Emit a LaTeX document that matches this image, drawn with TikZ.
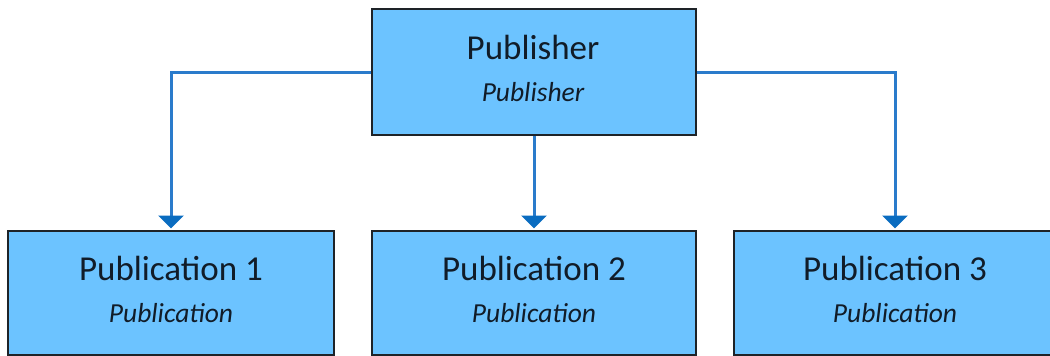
\documentclass[tikz,border=0pt]{standalone}
\usepackage{fontspec}
\setmainfont{Carlito}
\usetikzlibrary{arrows.meta}
\definecolor{boxfill}{HTML}{6CC3FF}
\definecolor{linkblue}{HTML}{2A7BCB}
\definecolor{tipblue}{HTML}{0A6CC0}
\definecolor{edgegray}{HTML}{1E2328}
\definecolor{txt}{HTML}{111C28}
\begin{document}
\begin{tikzpicture}[x=1pt,y=-1pt,
  box/.style={draw=edgegray,line width=2pt,fill=boxfill,rectangle,inner sep=0pt,minimum height=124pt},
  mainlabel/.style={anchor=base,inner sep=0pt,text=txt,font=\fontsize{35}{42}\selectfont},
  sublabel/.style={anchor=base,inner sep=0pt,text=txt,font=\fontsize{27.5}{33}\selectfont\itshape},
  link/.style={draw=linkblue,line width=3pt,-{Triangle[width=25pt,length=13pt,color=tipblue]},shorten >=1pt}]
\useasboundingbox (0,0) rectangle (1050,356);
\node[box,minimum width=324pt,minimum height=126pt] (top) at (534,72) {};
\node[box,minimum width=326pt] (pub1) at (171,292.5) {};
\node[box,minimum width=324pt] (pub2) at (534,292.5) {};
\node[box,minimum width=322pt] (pub3) at (895,292.5) {};
\node[mainlabel] (topname) at (533,59) {Publisher};
\node[sublabel] (toptype) at (533,101) {Publisher};
\node[mainlabel] (p1name) at (171,280) {Publication 1};
\node[sublabel] (p1type) at (171,322) {Publication};
\node[mainlabel] (p2name) at (534,280) {Publication 2};
\node[sublabel] (p2type) at (534,322) {Publication};
\node[mainlabel] (p3name) at (895,280) {Publication 3};
\node[sublabel] (p3type) at (895,322) {Publication};
\draw[link] (top.west) -| (pub1.north);
\draw[link] (top.south) -- (pub2.north);
\draw[link] (top.east) -| (pub3.north);
\end{tikzpicture}
\end{document}
